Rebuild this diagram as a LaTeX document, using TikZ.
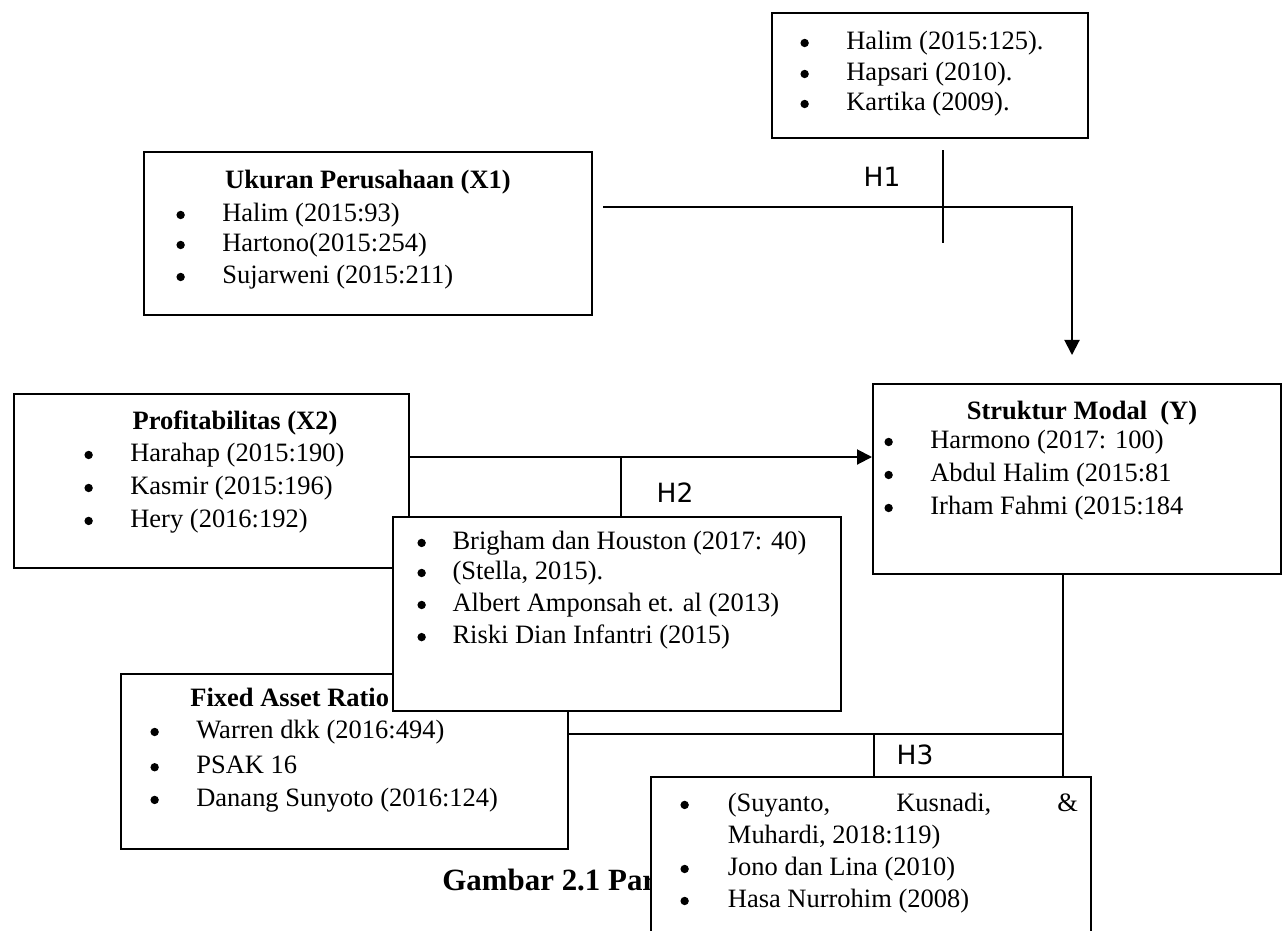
\documentclass[tikz,border=0pt]{standalone}
\usepackage{fontspec}
\setmainfont{Liberation Serif}
\newfontfamily\hfont{DejaVu Sans}
\usetikzlibrary{arrows.meta}
\newcommand\px{0.453pt}
\newcommand\titik{\tikz[baseline=-2.9pt]\fill (0,0) circle (1.9pt);}
\newcommand\butir[2][20.8pt]{\makebox[#1][l]{\titik}#2}
\tikzset{
  kotak/.style = {draw, line width=1.05pt, fill=white, anchor=north west, inner sep=0pt},
  baris/.style = {anchor=west, inner sep=0pt, font=\fontsize{12}{14}\selectfont},
  judul/.style = {inner sep=0pt, font=\fontsize{12}{14}\selectfont\bfseries},
  hipo/.style = {inner sep=0pt, font=\hfont\fontsize{12}{14}\selectfont},
  garis/.style = {line width=0.9pt},
  panah/.style = {garis, -{Triangle[width=6.8pt,length=6.8pt]}}
}

\begin{document}
\begin{tikzpicture}[x=\px,y=-\px]
  \useasboundingbox (0,0) rectangle (1282,930);

  % kotak variabel
  \node[kotak, minimum width=448*\px, minimum height=163*\px] (ukuran) at (143,151) {};
  \node[judul] (ukuran-j) at (368,182) {Ukuran Perusahaan (X1)};
  \foreach \yy/\t [count=\i] in {215/{Halim (2015:93)}, 245/{Hartono(2015:254)}, 277/{Sujarweni (2015:211)}}
    \node[baris] (ukuran-\i) at (176,\yy) {\butir{\t}};

  \node[kotak, minimum width=316*\px, minimum height=125*\px] (pustaka1) at (771,12) {};
  \foreach \yy/\t [count=\i] in {43/{Halim (2015:125).}, 74/{Hapsari (2010).}, 104/{Kartika (2009).}}
    \node[baris] (pustaka1-\i) at (800,\yy) {\butir{\t}};

  \node[kotak, minimum width=395*\px, minimum height=174*\px] (profit) at (13,393) {};
  \node[judul] (profit-j) at (235,423) {Profitabilitas (X2)};
  \foreach \yy/\t [count=\i] in {455/{Harahap (2015:190)}, 488/{Kasmir (2015:196)}, 521/{Hery (2016:192)}}
    \node[baris] (profit-\i) at (84,\yy) {\butir{\t}};

  \node[kotak, minimum width=408*\px, minimum height=190*\px] (struktur) at (872,383) {};
  \node[judul] (struktur-j) at (1082,413) {Struktur Modal\ \ (Y)};
  \foreach \yy/\t [count=\i] in {442/{Harmono (2017: 100)}, 475/{Abdul Halim (2015:81}, 508/{Irham Fahmi (2015:184}}
    \node[baris] (struktur-\i) at (884,\yy) {\butir{\t}};

  \node[kotak, minimum width=447*\px, minimum height=175*\px] (rasio) at (120,673) {};
  \node[judul, anchor=west] (rasio-j) at (190,700) {Fixed Asset Ratio (X3)};
  \foreach \yy/\t [count=\i] in {732/{Warren dkk (2016:494)}, 765/{PSAK 16}, 800/{Danang Sunyoto (2016:124)}}
    \node[baris] (rasio-\i) at (150,\yy) {\butir{\t}};

  \node[anchor=west, inner sep=0pt, font=\fontsize{14}{16}\selectfont\bfseries] (gambar) at (442,880) {Gambar 2.1 Par};

  % garis hipotesis
  \coordinate (h1a) at (603,207);
  \coordinate (h1b) at (1072,355);
  \draw[panah] (h1a) -| (h1b);
  \coordinate (t1a) at (943,150);
  \coordinate (t1b) at (943,243);
  \draw[garis] (t1a) -- (t1b);
  \node[hipo] (h1) at (882,177) {H1};

  \coordinate (h2row) at (0,457);
  \draw[panah] (profit.east |- h2row) -- (struktur.west |- h2row);
  \coordinate (h2j) at (621,457);
  \node[hipo] (h2) at (675,493) {H2};

  \coordinate (h3r) at (1063,734);
  \coordinate (h3j) at (874,734);
  \draw[garis] (rasio.east |- h3r) -- (h3r);
  \node[hipo] (h3) at (915,755) {H3};

  % kotak pustaka hipotesis
  \node[kotak, minimum width=448*\px, minimum height=194*\px] (pustaka2) at (392,516) {};
  \foreach \yy/\t [count=\i] in {543/{Brigham dan Houston (2017: 40)}, 573/{(Stella, 2015).}, 605/{Albert Amponsah et. al (2013)}, 637/{Riski Dian Infantri (2015)}}
    \node[baris] (pustaka2-\i) at (417,\yy) {\butir[15.9pt]{\t}};
  \draw[garis] (h2j) -- (h2j |- pustaka2.north);

  \node[kotak, minimum width=440*\px, minimum height=170*\px] (pustaka3) at (650,776) {};
  \node[baris] (pustaka3-1) at (680,805) {\butir[21.5pt]{\makebox[158.6pt][s]{(Suyanto,\hfill Kusnadi,\hfill\&}}};
  \node[baris] (pustaka3-1b) at (727.5,837) {Muhardi, 2018:119)};
  \foreach \yy/\t [count=\i from 2] in {869/{Jono dan Lina (2010)}, 901/{Hasa Nurrohim (2008)}}
    \node[baris] (pustaka3-\i) at (680,\yy) {\butir[21.5pt]{\t}};
  \draw[garis] (struktur.south -| h3r) -- (h3r |- pustaka3.north);
  \draw[garis] (h3j) -- (h3j |- pustaka3.north);
\end{tikzpicture}
\end{document}
